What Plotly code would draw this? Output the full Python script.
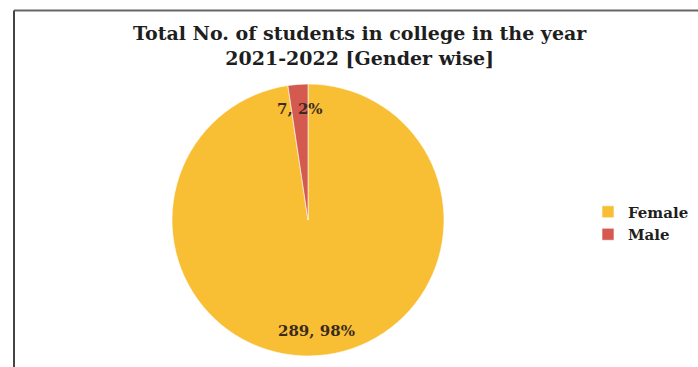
import math
import plotly.graph_objects as go

categories = ["Female", "Male"]
students = [289, 7]
colors = ["#F8BE34", "#D45A50"]

W, H = 698, 367
title_text = "Total No. of students in college in the year<br>2021-2022 [Gender wise]"

cx, cy, R = 308, 220, 136  # pixel center / radius of pie
label_dist = 111

fig = go.Figure()
fig.add_trace(go.Pie(
    labels=categories,
    values=students,
    sort=False,
    direction="clockwise",
    rotation=0,
    marker=dict(colors=colors, line=dict(color="rgba(255,255,255,0.6)", width=1)),
    textinfo="none",
    hoverinfo="label+value+percent",
    domain=dict(x=[(cx - R) / W, (cx + R) / W], y=[(H - cy - R) / H, (H - cy + R) / H]),
))

# data labels computed from the data (value, rounded percent) at slice mid-angles
total = sum(students)
start = 0.0
annotations = []
for cat, v in zip(categories, students):
    frac = v / total
    mid = (start + frac / 2) * 2 * math.pi  # clockwise from 12 o'clock
    start += frac
    px = cx + label_dist * math.sin(mid)
    py = cy - label_dist * math.cos(mid)
    annotations.append(dict(
        x=px / W, y=1 - py / H, xref="paper", yref="paper",
        text=f"{v}, {round(frac * 100)}%", showarrow=False,
        font=dict(family="DejaVu Serif", size=15, color="#3b2a1e", weight="bold"),
        xanchor="center", yanchor="middle",
    ))

annotations.append(dict(
    x=360 / W, y=1 - 45 / H, xref="paper", yref="paper",
    text=title_text, showarrow=False,
    font=dict(family="DejaVu Serif", size=19, color="#1e1e1e", weight="bold"),
    xanchor="center", yanchor="middle",
))

fig.update_layout(
    width=W, height=H,
    margin=dict(l=0, r=0, t=0, b=0),
    paper_bgcolor="white",
    plot_bgcolor="white",
    showlegend=True,
    legend=dict(
        x=588 / W, y=1 - 223 / H, xanchor="left", yanchor="middle",
        font=dict(family="DejaVu Serif", size=15, color="#1e1e1e", weight="bold"),
        itemwidth=30, tracegroupgap=0, bgcolor="rgba(0,0,0,0)",
    ),
    annotations=annotations,
    shapes=[
        dict(type="line", xref="paper", yref="paper", x0=14 / W, x1=1, y0=1 - 10.5 / H, y1=1 - 10.5 / H,
             line=dict(color="#666666", width=2)),
        dict(type="line", xref="paper", yref="paper", x0=14 / W, x1=14 / W, y0=0, y1=1 - 10.5 / H,
             line=dict(color="#444444", width=2)),
    ],
)

fig.write_html("out.html", config={"displayModeBar": False},
               post_script="document.body.style.margin='0px';")
